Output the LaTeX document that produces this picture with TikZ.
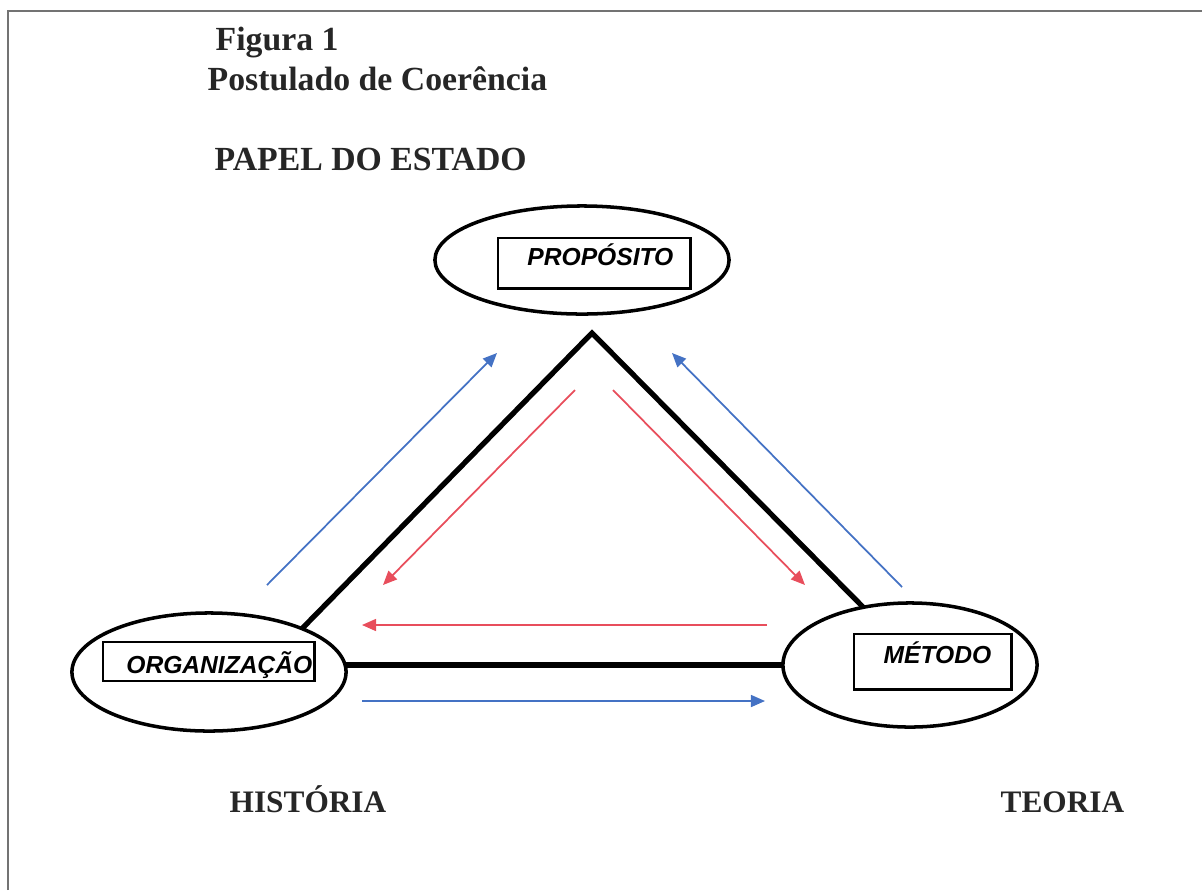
\documentclass[tikz,border=0pt]{standalone}
\usepackage{fontspec}
\setmainfont{Liberation Serif}
\setsansfont{Liberation Sans}
\usetikzlibrary{arrows.meta,shapes.geometric}

\definecolor{flowblue}{RGB}{68,114,196}
\definecolor{flowred}{RGB}{232,78,92}

\tikzset{
  pole/.style={draw, ellipse, line width=1pt, inner sep=0pt, outer sep=0pt},
  tag/.style={draw, line width=0.7pt, inner ysep=0pt, align=right, anchor=north west,
    font=\sffamily\bfseries\itshape\fontsize{7}{8}\selectfont},
  side/.style={line width=1.5pt},
  flow/.style={line width=0.5pt, -{Triangle[length=4pt,width=3.4pt]}},
  title/.style={anchor=base west, inner sep=0pt, text=black!85,
    font=\bfseries\fontsize{9.6}{11}\selectfont},
  corner/.style={anchor=base west, inner sep=0pt, text=black!85,
    font=\bfseries\fontsize{8.9}{10}\selectfont},
}

\begin{document}
\begin{tikzpicture}[x=0.01cm, y=-0.01cm]
\useasboundingbox (0,0) rectangle (1202,890);

% page frame, cut at right and bottom
\draw[black!55, line width=0.5pt] (8,890) -- (8,11) -- (1202,11);

\node[title] (fig) at (215,50) {Figura 1};
\node[title] (post) at (207,90) {Postulado de Coerência};
\node[title] (papel) at (214,170) {PAPEL DO ESTADO};

\node[corner] (hist) at (229,812) {HISTÓRIA};
\node[corner] (teor) at (1000,812) {TEORIA};

% the three poles
\node[pole, minimum width=2.94cm, minimum height=1.08cm] (prop) at (582,260) {};
\node[pole, minimum width=2.74cm, minimum height=1.18cm] (org) at (209,672) {};
\node[pole, minimum width=2.54cm, minimum height=1.24cm] (met) at (910,665) {};

\node[tag, text width=1.58cm, inner xsep=0.17cm, text height=0.27cm, text depth=0.23cm]
  (propbox) at (497,237) {PROPÓSITO};
\node[tag, text width=2.07cm, inner xsep=0.02cm, text height=0.31cm, text depth=0.08cm]
  (orgbox) at (102,641) {ORGANIZAÇÃO};
\node[tag, text width=1.17cm, inner xsep=0.2cm, text height=0.29cm, text depth=0.26cm]
  (metbox) at (853,633) {MÉTODO};

% triangle
\coordinate (apex) at (592,333);
\draw[side] (org.25) -- (apex) -- (met.129);
\draw[side] (met.west -| org.east) -- (met.west);

% flows along the sides
\coordinate (hu0) at (267,585); \coordinate (hu1) at (497,353);
\coordinate (pd0) at (575,390); \coordinate (pd1) at (383,585);
\coordinate (pm0) at (613,390); \coordinate (pm1) at (805,585);
\coordinate (mu0) at (902,587); \coordinate (mu1) at (672,353);
\coordinate (mo0) at (767,625); \coordinate (mo1) at (362,625);
\coordinate (om0) at (362,701); \coordinate (om1) at (765,701);

\foreach \a/\c in {hu/flowblue, mu/flowblue, om/flowblue, pd/flowred, pm/flowred, mo/flowred}
  \draw[flow, \c] (\a0) -- (\a1);

\end{tikzpicture}
\end{document}
